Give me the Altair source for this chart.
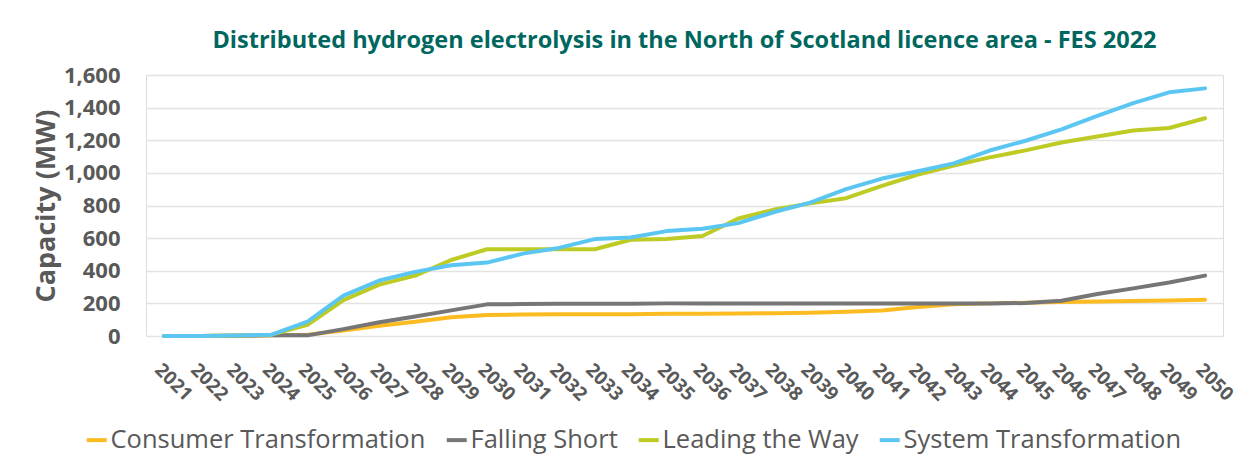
import altair as alt
import pandas as pd

years = [str(y) for y in range(2021, 2051)]

consumer_transformation = [0, 0, 2, 4, 8, 34, 63, 88, 115, 128, 132, 134, 134, 134, 136, 136, 138, 140, 143, 149,
                           157, 178, 195, 200, 204, 208, 212, 215, 218, 222]
falling_short = [0, 0, 2, 4, 4, 42, 84, 120, 157, 194, 196, 198, 198, 198, 200, 200, 200, 200, 200, 200,
                 200, 200, 200, 200, 202, 216, 258, 292, 328, 370]
leading_the_way = [0, 0, 3, 8, 68, 220, 315, 370, 466, 532, 532, 532, 532, 590, 595, 613, 720, 775, 813, 845,
                   920, 990, 1045, 1095, 1138, 1186, 1223, 1260, 1275, 1335]
system_transformation = [0, 0, 3, 8, 88, 247, 340, 393, 434, 450, 505, 540, 594, 604, 643, 657, 692, 760, 818, 900,
                         965, 1010, 1058, 1137, 1197, 1267, 1350, 1428, 1494, 1518]

series_names = ["Consumer Transformation", "Falling Short", "Leading the Way", "System Transformation"]
series_values = [consumer_transformation, falling_short, leading_the_way, system_transformation]
series_colors = ["#FDBB22", "#767676", "#BDCB24", "#5BC6F2"]

rows = []
for name, vals in zip(series_names, series_values):
    for i, (yr, v) in enumerate(zip(years, vals)):
        rows.append({"Year": yr, "Value": v, "Scenario": name})
df = pd.DataFrame(rows)

FONT = "Open Sans"
GREY = "#595959"

chart = alt.Chart(df).mark_line(strokeWidth=4, strokeJoin="round", strokeCap="round").encode(
    x=alt.X("Year:O", sort=years,
            scale=alt.Scale(type="point", padding=0.5),
            axis=alt.Axis(title=None, labelAngle=45, labelAlign="left", labelBaseline="top",
                          labelFont=FONT, labelFontSize=19, labelFontWeight="bold", labelColor=GREY,
                          labelPadding=24, labelOffset=0, ticks=False, domain=False, grid=False)),
    y=alt.Y("Value:Q",
            scale=alt.Scale(domain=[0, 1600], nice=False),
            axis=alt.Axis(title="Capacity (MW)", values=[0, 200, 400, 600, 800, 1000, 1200, 1400, 1600],
                          format=",.0f", labelFont=FONT, labelFontSize=22, labelFontWeight="bold",
                          labelColor=GREY, labelPadding=26, ticks=False, domain=False,
                          gridColor="#E3E3E3", gridWidth=1.5,
                          titleFont=FONT, titleFontSize=27, titleFontWeight="bold", titleColor=GREY,
                          titlePadding=3)),
    color=alt.Color("Scenario:N", sort=series_names,
                    scale=alt.Scale(domain=series_names, range=series_colors),
                    legend=alt.Legend(title=None, orient="none", direction="horizontal",
                                      legendX=-62, legendY=352, labelLimit=0,
                                      symbolType="stroke", symbolStrokeWidth=4, symbolSize=400,
                                      labelFont=FONT, labelFontSize=25.5, labelColor=GREY,
                                      labelOffset=1, columnPadding=12, symbolOffset=0)),
    order=alt.Order("Year:O")
).properties(
    width=1077,
    height=261,
    padding={"left": 138, "top": 67, "right": 22, "bottom": 119},
    autosize=alt.AutoSizeParams(type="none"),
    title=alt.Title("Distributed hydrogen electrolysis in the North of Scotland licence area - FES 2022",
                    font=FONT, fontSize=23.5, fontWeight="bold", color="#00675F",
                    anchor="middle", offset=12)
).configure_view(stroke=None).configure(background="white")

chart.save("out.html", embed_options={"renderer": "svg", "actions": False})
